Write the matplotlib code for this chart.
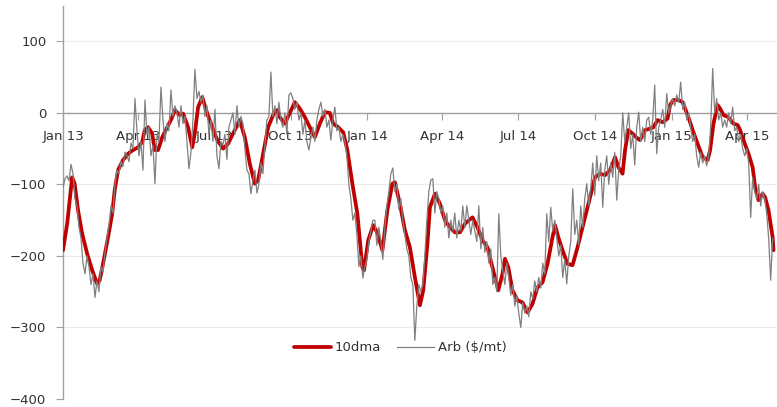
import pandas as pd
import matplotlib
matplotlib.use("Agg")
import matplotlib.pyplot as plt

RED, GREY, AXIS, GRID, INK = "#c00000", "#808080", "#a0a0a0", "#ebebeb", "#333333"

START, END = "2013-01-01", "2015-05-02"

# 10-day moving average: days after START, $/mt
ma_day = [0, 5, 11, 14, 18, 23, 29, 35, 41, 44, 48, 54, 59, 62, 66, 72, 78, 84, 90, 95,
          98, 102, 107, 110, 114, 119, 125, 131, 134, 140, 144, 150, 155, 158, 162, 167, 173, 179, 185, 192,
          198, 204, 212, 218, 224, 230, 234, 240, 246, 252, 257, 260, 266, 272, 278, 284, 290, 296, 302, 308,
          314, 320, 324, 330, 336, 341, 347, 353, 359, 361, 366, 372, 377, 383, 389, 395, 398, 404, 410, 416,
          422, 428, 432, 437, 440, 446, 452, 458, 464, 470, 476, 482, 491, 497, 503, 509, 512, 518, 522, 527,
          530, 534, 539, 545, 551, 557, 563, 569, 575, 581, 587, 590, 594, 599, 605, 611, 617, 623, 629, 632,
          638, 644, 650, 656, 662, 666, 671, 674, 678, 683, 689, 692, 698, 704, 708, 713, 719, 725, 728, 732,
          738, 743, 746, 750, 755, 761, 767, 773, 776, 780, 785, 788, 792, 798, 804, 809, 812, 816, 822, 827,
          830, 834, 839, 842, 846, 851, 852]
ma_val = [-192, -155, -90, -99, -136, -169, -197, -220, -239, -234, -211, -174, -141, -108, -80, -66, -57, -52, -48, -41,
          -24, -20, -29, -52, -52, -34, -20, -6, 4, -3, -1, -20, -48, -29, 8, 22, -1, -20, -38, -50,
          -43, -29, -10, -34, -71, -99, -94, -57, -20, -3, 4, -6, -15, 0, 15, 6, -6, -20, -34, -15,
          1, 0, -15, -20, -27, -52, -99, -141, -216, -220, -178, -157, -168, -192, -136, -99, -97, -127, -164, -188,
          -230, -269, -248, -183, -132, -113, -127, -150, -160, -167, -167, -155, -146, -160, -178, -188, -202, -230, -248, -225,
          -204, -216, -248, -262, -265, -279, -267, -244, -237, -211, -174, -157, -174, -192, -211, -213, -188, -160, -132, -118,
          -90, -85, -87, -80, -62, -76, -85, -52, -24, -29, -36, -38, -24, -22, -20, -10, -13, -8, 11, 18,
          18, 15, 6, -6, -24, -43, -62, -66, -52, -15, 11, 6, -3, -6, -15, -17, -24, -38, -57, -76,
          -104, -122, -113, -118, -136, -174, -192]

# daily arb ($/mt), read at evenly spaced dates from START to END
arb_val = [-105, -92, -88, -95, -72, -85, -120, -130, -160, -175, -210, -225, -200, -215, -240, -225, -258, -235, -250, -215,
           -222, -195, -175, -158, -130, -140, -100, -80, -85, -68, -75, -55, -60, -68, -42, -50, 20, -25, -60, -40,
           -80, 18, -30, -20, -60, -45, -99, -30, -40, 36, -10, -40, -15, -25, 32, -5, 10, 0, -20, 10,
           -15, -5, -40, -78, -55, -10, 61, 20, 30, 15, 25, -5, 10, -30, -10, -40, 5, -60, -78, -40,
           -45, -30, -65, -20, -10, 0, -30, 10, -20, -5, -15, -50, -80, -85, -113, -95, -80, -112, -100, -70,
           -85, -45, -10, -5, 57, -5, 10, -15, 15, -10, -20, 0, -30, 25, 28, 20, 5, 15, -10, 0,
           -30, -10, -40, -52, -35, -20, -40, -10, 5, 15, -5, 5, -20, -10, -38, -10, 8, -25, -20, -40,
           -30, -40, -60, -100, -120, -150, -140, -170, -215, -200, -231, -215, -205, -180, -165, -150, -150, -185, -160, -180,
           -205, -160, -130, -110, -85, -77, -110, -100, -135, -120, -150, -170, -190, -200, -230, -240, -318, -270, -240, -250,
           -240, -200, -150, -110, -94, -92, -140, -110, -120, -140, -130, -160, -140, -175, -150, -165, -140, -175, -150, -165,
           -130, -160, -130, -150, -170, -150, -165, -180, -130, -190, -160, -195, -180, -210, -190, -240, -230, -250, -141, -200,
           -220, -240, -210, -230, -255, -240, -270, -255, -280, -300, -265, -280, -270, -285, -250, -260, -235, -250, -230, -245,
           -210, -225, -141, -180, -132, -165, -150, -175, -200, -185, -230, -205, -239, -200, -180, -106, -170, -150, -185, -130,
           -160, -120, -99, -130, -105, -70, -115, -60, -95, -70, -132, -80, -60, -100, -70, -90, -55, -122, -80, -60,
           0, -40, -20, 0, -50, -30, -73, -20, 1, -40, -20, -40, -10, -6, -30, -10, 39, -57, -20, -10,
           5, -20, 27, 0, 10, 20, 10, 25, 15, 43, 5, 15, -10, 0, -20, -40, -30, -60, -76, -55,
           -70, -60, -74, -60, -20, 62, 0, 20, -10, 0, -20, -10, -20, 0, -15, 8, -25, -20, -40, -30,
           -50, -60, -50, -70, -146, -90, -110, -120, -100, -130, -110, -120, -140, -175, -234, -175]

quarters = pd.date_range("2013-01-01", "2015-04-01", freq="QS")
quarter_labels = [d.strftime("%b %y") for d in quarters]
y_ticks = [-400, -300, -200, -100, 0, 100]

ma_dates = pd.Timestamp(START) + pd.to_timedelta(ma_day, unit="D")
arb_dates = pd.date_range(START, END, periods=len(arb_val))

plt.rcParams["font.family"] = "DejaVu Sans"
plt.rcParams["font.size"] = 9.5

fig = plt.figure(figsize=(7.77, 4.07), dpi=100)
ax = fig.add_axes([63 / 777, 8 / 407, 713 / 777, 393.4 / 407])

ax.plot(ma_dates, ma_val, color=RED, lw=2.7, label="10dma", zorder=2, solid_capstyle="round")
ax.plot(arb_dates, arb_val, color=GREY, lw=0.9, label="Arb ($/mt)", zorder=3)

ax.set_xlim(pd.Timestamp(START), pd.Timestamp("2015-05-06"))
ax.set_ylim(-400, 150)
ax.set_yticks(y_ticks)
ax.set_xticks(quarters)
ax.set_xticklabels(quarter_labels)

ax.set_axisbelow(True)
ax.yaxis.grid(True, color=GRID, lw=0.8)
for side in ("top", "right"):
    ax.spines[side].set_visible(False)
ax.spines["bottom"].set_position(("data", 0))
for side in ("left", "bottom"):
    ax.spines[side].set_color(AXIS)
    ax.spines[side].set_linewidth(1.0)
    ax.spines[side].set_zorder(1)

ax.tick_params(axis="x", direction="out", length=5, color=AXIS, labelcolor=INK, pad=7.5)
ax.tick_params(axis="y", direction="out", length=5, color=AXIS, labelcolor=INK, pad=7)

ax.legend(loc="center", bbox_to_anchor=(0.473, 0.13), ncol=2, frameon=False,
          handlelength=2.8, handletextpad=0.3, columnspacing=1.2, labelcolor=INK)

fig.savefig("out.png", dpi=100, facecolor="white")
